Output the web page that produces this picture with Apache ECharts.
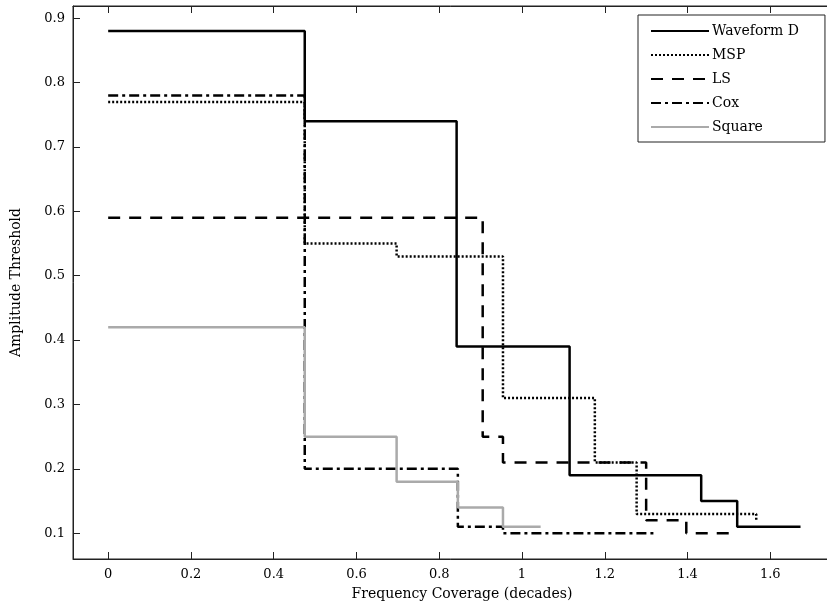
<html>
<head>
<meta charset="utf-8">
<script src="https://cdn.jsdelivr.net/npm/echarts@6/dist/echarts.min.js"></script>
<style>
    body { margin: 0; background: #fff; }
    #chart { width: 827px; height: 609px; }
</style>
</head>
<body>
<div id="chart"></div>
<script type="text/javascript">
    // tick labels
    var xTicks = [0, 0.2, 0.4, 0.6, 0.8, 1, 1.2, 1.4, 1.6];
    var yTicks = [0.1, 0.2, 0.3, 0.4, 0.5, 0.6, 0.7, 0.8, 0.9];

    // step edges (decades) and levels for each curve
    var wfEdges = [0, 0.475, 0.842, 1.115, 1.433, 1.52, 1.673];
    var wfLevels = [0.88, 0.74, 0.39, 0.19, 0.15, 0.11];

    var mspEdges = [0, 0.475, 0.697, 0.954, 1.176, 1.277, 1.566];
    var mspLevels = [0.77, 0.55, 0.53, 0.31, 0.21, 0.13, 0.12];

    var lsEdges = [0, 0.905, 0.954, 1.30, 1.397, 1.51];
    var lsLevels = [0.59, 0.25, 0.21, 0.12, 0.10];

    var coxEdges = [0, 0.475, 0.845, 0.954, 1.32];
    var coxLevels = [0.78, 0.20, 0.11, 0.10];

    var sqEdges = [0, 0.475, 0.697, 0.845, 0.954, 1.045];
    var sqLevels = [0.42, 0.25, 0.18, 0.14, 0.11];

    var font = '"DejaVu Serif", "Liberation Serif", serif';

    // turn edges + levels into points for a step:'end' line
    function steps(edges, levels) {
        var pts = [];
        for (var i = 0; i < levels.length; i++) {
            if (i < edges.length) pts.push([edges[i], levels[i]]);
        }
        if (edges.length > levels.length) {
            pts.push([edges[edges.length - 1], levels[levels.length - 1]]);
        } else {
            // last level is only a drop at the final edge
            pts[pts.length - 1] = [edges[edges.length - 1], levels[levels.length - 1]];
        }
        return pts;
    }

    function mkSeries(name, edges, levels, color, dash) {
        return {
            name: name,
            type: 'line',
            step: 'end',
            symbol: 'none',
            animation: false,
            data: steps(edges, levels),
            lineStyle: { color: color, width: 2.5, type: dash, cap: 'butt' },
            itemStyle: { color: color }
        };
    }

    var myChart = echarts.init(document.getElementById('chart'));

    var axisCommon = {
        axisLine: { show: true, onZero: false, lineStyle: { color: '#222', width: 1 } },
        splitLine: { show: false }
    };

    var options = {
        backgroundColor: '#fff',
        animation: false,
        grid: {
            left: 73, right: -24, top: 6, bottom: 50,
            show: true, borderColor: '#222', borderWidth: 1,
            containLabel: false, outerBoundsMode: 'none'
        },
        legend: {
            orient: 'vertical',
            left: 638, top: 15,
            padding: [9, 26, 8, 12],
            itemWidth: 58, itemHeight: 14, itemGap: 10,
            borderColor: '#222', borderWidth: 1, borderRadius: 0,
            backgroundColor: '#fff',
            itemStyle: { opacity: 0 },
            textStyle: { fontFamily: font, fontSize: 14, color: '#000', padding: [0, 0, 0, -2] },
            data: ['Waveform D', 'MSP', 'LS', 'Cox', 'Square']
        },
        xAxis: [
            Object.assign({}, axisCommon, {
                type: 'value',
                min: -0.085, max: 1.795,
                name: 'Frequency Coverage (decades)',
                nameLocation: 'middle', nameGap: 28,
                nameTextStyle: { fontFamily: font, fontSize: 14, color: '#000' },
                axisTick: { inside: true, length: 7, customValues: xTicks, lineStyle: { color: '#222' } },
                axisLabel: {
                    customValues: xTicks, margin: 9,
                    fontFamily: font, fontSize: 13, color: '#000',
                    formatter: function (v) { return String(Math.round(v * 10) / 10); }
                }
            }),
            Object.assign({}, axisCommon, {
                type: 'value', position: 'top',
                min: -0.085, max: 1.795,
                axisTick: { inside: true, length: 7, customValues: xTicks, lineStyle: { color: '#222' } },
                axisLabel: { show: false }
            })
        ],
        yAxis: [
            Object.assign({}, axisCommon, {
                type: 'value',
                min: 0.06, max: 0.919,
                name: 'Amplitude Threshold',
                nameLocation: 'middle', nameGap: 50,
                nameTextStyle: { fontFamily: font, fontSize: 14, color: '#000' },
                axisTick: { inside: true, length: 7, customValues: yTicks, lineStyle: { color: '#222' } },
                axisLabel: {
                    customValues: yTicks, margin: 8,
                    fontFamily: font, fontSize: 13, color: '#000',
                    formatter: function (v) { return (Math.round(v * 10) / 10).toFixed(1); }
                }
            })
        ],
        series: [
            mkSeries('Waveform D', wfEdges, wfLevels, '#000', 'solid'),
            mkSeries('MSP', mspEdges, mspLevels, '#000', [2, 2]),
            mkSeries('LS', lsEdges, lsLevels, '#000', [12, 9]),
            mkSeries('Cox', coxEdges, coxLevels, '#000', [10, 4, 3, 4]),
            mkSeries('Square', sqEdges, sqLevels, '#aaa', 'solid')
        ]
    };

    myChart.setOption(options);
</script>
</body>
</html>
